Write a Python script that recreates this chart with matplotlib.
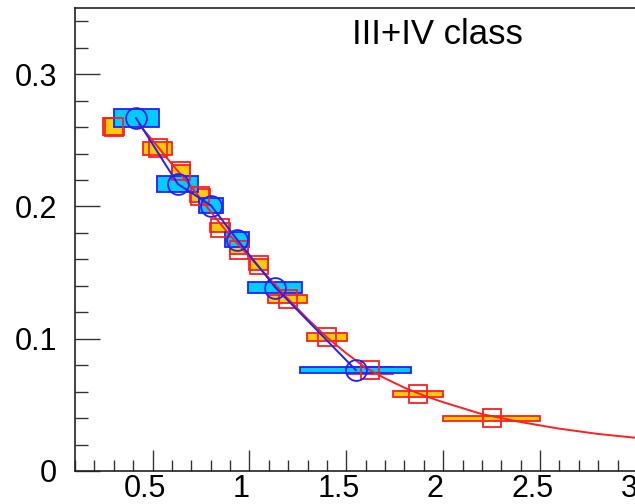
import numpy as np
import matplotlib
matplotlib.use("Agg")
import matplotlib.pyplot as plt
from matplotlib.ticker import MultipleLocator
from matplotlib.transforms import ScaledTranslation

plt.rcParams['font.family'] = ['Liberation Sans', 'DejaVu Sans']

# orange/red series: centre, box half-width, box half-height
red_x = [0.30, 0.526, 0.649, 0.747, 0.850, 0.948, 1.049, 1.198, 1.402, 1.624, 1.871, 2.250]
red_y = [0.2604, 0.2438, 0.2268, 0.2079, 0.1837, 0.1670, 0.1561, 0.1300, 0.1013, 0.0763, 0.0582, 0.0400]
red_xw = [0.054, 0.077, 0.046, 0.052, 0.052, 0.046, 0.049, 0.100, 0.103, 0.119, 0.129, 0.250]
red_yw = [0.0064, 0.0049, 0.0045, 0.0049, 0.0034, 0.0030, 0.0042, 0.0030, 0.0030, 0.0026, 0.0019, 0.0019]

# blue/cyan series
blue_x = [0.415, 0.631, 0.802, 0.936, 1.134, 1.549]
blue_y = [0.2668, 0.2169, 0.2007, 0.1750, 0.1387, 0.0763]
blue_xw = [0.116, 0.106, 0.064, 0.064, 0.139, 0.286]
blue_yw = [0.0068, 0.0060, 0.0057, 0.0057, 0.0042, 0.0023]

# red fit curve
fit_x = [0.43, 0.5, 0.6, 0.7, 0.8, 0.9, 1.0, 1.1, 1.2, 1.3, 1.4, 1.5, 1.6,
         1.7, 1.8, 1.9, 2.0, 2.2, 2.4, 2.6, 2.8, 3.0]
fit_y = [0.262, 0.250, 0.232, 0.215, 0.196, 0.178, 0.162, 0.146, 0.130, 0.115,
         0.101, 0.089, 0.078, 0.070, 0.063, 0.057, 0.052, 0.043, 0.037, 0.032,
         0.028, 0.025]

fig = plt.figure(figsize=(6.35, 5.04), dpi=100)
ax = fig.add_axes([75/635, 33/504, 562/635, 463/504])

rx, ry = np.array(red_x), np.array(red_y)
rxw, ryw = np.array(red_xw), np.array(red_yw)
bx, by = np.array(blue_x), np.array(blue_y)
bxw, byw = np.array(blue_xw), np.array(blue_yw)

# error boxes
ax.bar(rx, 2*ryw, width=2*rxw, bottom=ry-ryw, color='#FFCC00', edgecolor='#FF2020',
       linewidth=1.3, zorder=2)
ax.bar(bx, 2*byw, width=2*bxw, bottom=by-byw, color='#00CCFF', edgecolor='#2020FF',
       linewidth=1.3, zorder=3)

# lines and markers
ax.plot(fit_x, fit_y, color='#FF2020', lw=1.4, zorder=4)
ax.plot(bx, by, color='#2020FF', lw=1.4, zorder=5)
ax.plot(rx, ry, ls='none', marker='s', ms=13.5, mfc='none', mec='#FF2020', mew=1.3, zorder=4)
ax.plot(bx, by, ls='none', marker='o', ms=15, mfc='none', mec='#2020FF', mew=1.3, zorder=5)

ax.set_xlim(0.1, 3.0)
ax.set_ylim(0, 0.35)
ax.xaxis.set_minor_locator(MultipleLocator(0.1))
ax.yaxis.set_minor_locator(MultipleLocator(0.02))
ax.set_xticks([0.5, 1, 1.5, 2, 2.5, 3])
ax.set_xticklabels(['0.5', '1', '1.5', '2', '2.5', '3'])
ax.set_yticks([0, 0.1, 0.2, 0.3])
ax.set_yticklabels(['0', '0.1', '0.2', '0.3'])

ax.tick_params(axis='both', which='both', direction='in', labelsize=22, color='#333333')
ax.tick_params(axis='x', which='major', length=15, width=1, pad=2)
ax.tick_params(axis='x', which='minor', length=8, width=1)
ax.tick_params(axis='y', which='major', length=18, width=1, pad=13)
ax.tick_params(axis='y', which='minor', length=9, width=1)
for s in ['left', 'bottom', 'top']:
    ax.spines[s].set_linewidth(1.2)
    ax.spines[s].set_color('#222222')
ax.spines['right'].set_visible(False)

# labels sit a little left of their ticks in the original
shift = ScaledTranslation(-8/100, 0, fig.dpi_scale_trans)
for lab in ax.get_xticklabels():
    lab.set_transform(lab.get_transform() + shift)

fig.text(437/635, 1 - 35/504, 'III+IV class', fontsize=25, ha='center', va='center')

fig.savefig('out.png', dpi=100)
